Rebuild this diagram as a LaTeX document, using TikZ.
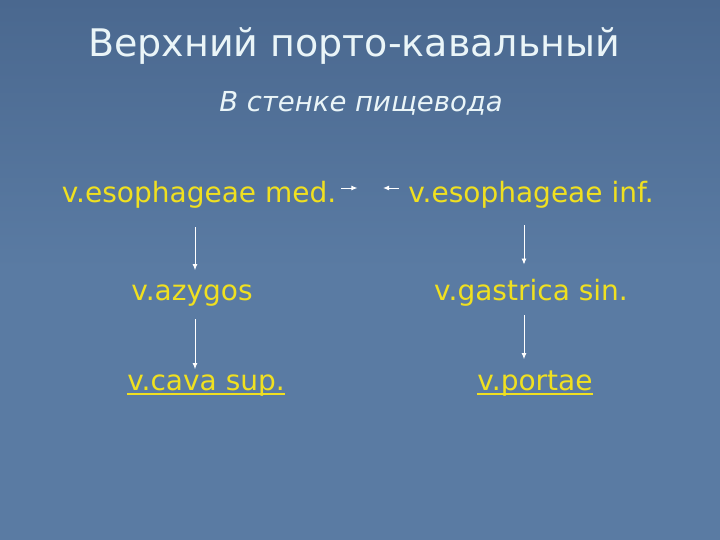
\documentclass[tikz,border=0pt]{standalone}
\usepackage{fontspec}
\usepackage{xcolor}
\setmainfont{DejaVu Sans}
\usetikzlibrary{calc,arrows.meta}

\definecolor{slidebg}{HTML}{5A7BA3}
\definecolor{slidetop}{HTML}{4A688F}
\definecolor{veinyellow}{HTML}{F0E020}
\definecolor{titlewhite}{HTML}{EAF5F8}

% thicker underline in the text colour
\newcommand{\vunder}[1]{\setbox0\hbox{#1}\rlap{\rule[-4.5pt]{\wd0}{1.6pt}}\box0}

\tikzset{
  vein/.style={text=veinyellow,anchor=base,inner sep=2pt,font=\fontsize{28}{32}\selectfont},
  arr/.style={draw=white,line width=0.9pt,-{Latex[length=6pt,width=5pt]}}
}

\begin{document}
\begin{tikzpicture}[x=1pt,y=-1pt]
        \useasboundingbox (0,0) rectangle (720,540);
        \shade[top color=slidetop,bottom color=slidebg,middle color=slidebg] (0,0) rectangle (720,540);

        \node[text=titlewhite,anchor=base,font=\fontsize{38}{42}\selectfont] (title) at (354,57) {Верхний порто-кавальный};
        \node[text=titlewhite,anchor=base,font=\fontsize{27.5}{31}\selectfont\itshape] (wall) at (361,112) {В стенке пищевода};

        \node[vein] (med) at (199,203) {v.esophageae med.};
        \node[vein] (inf) at (531,203) {v.esophageae inf.};
        \node[vein] (azy) at (192,300) {v.azygos};
        \node[vein] (gas) at (531,300) {v.gastrica sin.};
        \node[vein] (cava) at (206,390) {\vunder{v.cava sup.}};
        \node[vein] (port) at (535,390) {\vunder{v.portae}};

        \coordinate (colL) at (195,0);
        \coordinate (colR) at (524,0);

        \draw[arr] ($(med.base east)+(3,-15)$) -- ++(16,0);
        \draw[arr] ($(inf.base west)+(-7,-15)$) -- ++(-16,0);
        \draw[arr,shorten <=16pt,shorten >=12pt] (med.south -| colL) -- (azy.north -| colL);
        \draw[arr,shorten <=14pt,shorten >=12pt] (inf.south -| colR) -- (gas.north -| colR);
        \draw[arr,shorten <=11pt,shorten >=3pt] (azy.south -| colL) -- (cava.north -| colL);
        \draw[arr,shorten <=7pt,shorten >=9pt] (gas.south -| colR) -- (port.north -| colR);
    \end{tikzpicture}
\end{document}
